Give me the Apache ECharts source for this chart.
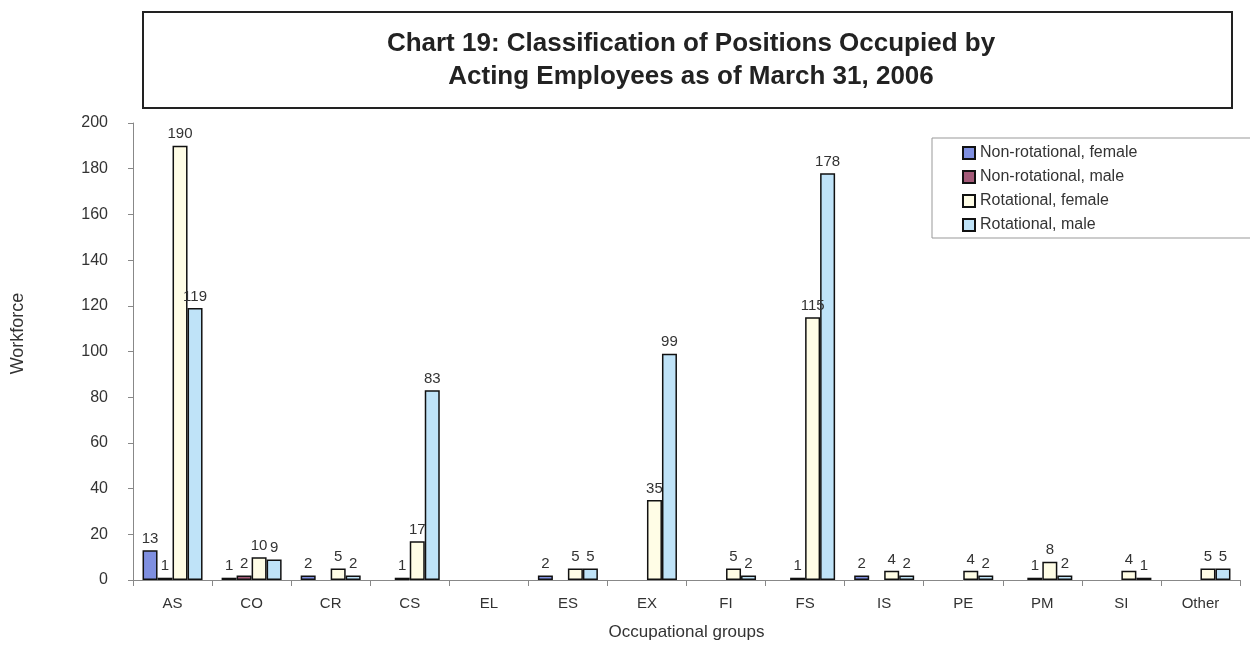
<!DOCTYPE html>
<html>
<head>
<meta charset="utf-8">
<script src="https://cdn.jsdelivr.net/npm/echarts@6/dist/echarts.min.js"></script>
<style>
  html, body { margin: 0; padding: 0; background: #fff; }
  #chart { width: 1250px; height: 646px; }
</style>
</head>
<body>
<div id="chart"></div>
<script>
  // occupational groups
  var groups = ['AS', 'CO', 'CR', 'CS', 'EL', 'ES', 'EX', 'FI', 'FS', 'IS', 'PE', 'PM', 'SI', 'Other'];

  // workforce counts, null = no bar
  var nonRotFemale = [13, 1, 2, null, null, 2, null, null, null, 2, null, null, null, null];
  var nonRotMale   = [1, 2, null, 1, null, null, null, null, 1, null, null, 1, null, null];
  var rotFemale    = [190, 10, 5, 17, null, 5, 35, 5, 115, 4, 4, 8, 4, 5];
  var rotMale      = [119, 9, 2, 83, null, 5, 99, 2, 178, 2, 2, 2, 1, 5];

  var font = 'Arial, "Liberation Sans", sans-serif';

  function barSeries(name, data, color) {
    return {
      name: name,
      type: 'bar',
      data: data,
      barWidth: 15,
      barGap: '0%',
      itemStyle: { color: color, borderColor: '#111', borderWidth: 1.5 },
      label: {
        show: true,
        position: 'top',
        distance: 4,
        color: '#333',
        fontSize: 15,
        fontFamily: font
      }
    };
  }

  var chart = echarts.init(document.getElementById('chart'));
  chart.setOption({
    animation: false,
    backgroundColor: '#fff',
    graphic: [{
      type: 'rect',
      shape: { x: 143, y: 12, width: 1089, height: 96 },
      style: { fill: '#fff', stroke: '#222', lineWidth: 2 }
    }],
    title: {
      text: 'Chart 19: Classification of Positions Occupied by\nActing Employees as of March 31, 2006',
      left: 686,
      textAlign: 'center',
      top: 22,
      textStyle: {
        fontFamily: font,
        fontSize: 26,
        fontWeight: 'bold',
        color: '#222',
        lineHeight: 33
      }
    },
    legend: {
      left: 932,
      top: 138,
      orient: 'vertical',
      itemWidth: 12,
      itemHeight: 12,
      itemGap: 8,
      padding: [7, 130, 5, 30],
      borderColor: '#999',
      borderWidth: 1,
      icon: 'rect',
      textStyle: { fontFamily: font, fontSize: 16, color: '#333' }
    },
    grid: {
      left: 133,
      right: 10,
      top: 123,
      bottom: 64
    },
    xAxis: {
      type: 'category',
      data: groups,
      name: 'Occupational groups',
      nameLocation: 'middle',
      nameGap: 44,
      nameTextStyle: { fontFamily: font, fontSize: 17, color: '#333' },
      axisLine: { lineStyle: { color: '#888' } },
      axisTick: { show: true, alignWithLabel: false, length: 6, lineStyle: { color: '#888' } },
      axisLabel: { fontFamily: font, fontSize: 15, color: '#333', margin: 16 }
    },
    yAxis: {
      type: 'value',
      min: 0,
      max: 200,
      interval: 20,
      name: 'Workforce',
      nameLocation: 'middle',
      nameGap: 106,
      nameTextStyle: { fontFamily: font, fontSize: 18, color: '#333', padding: [0, 0, 0, 36] },
      axisLine: { show: true, lineStyle: { color: '#888' } },
      axisTick: { show: true, length: 5, lineStyle: { color: '#888' } },
      splitLine: { show: false },
      axisLabel: { fontFamily: font, fontSize: 16, color: '#333', margin: 25 }
    },
    series: [
      barSeries('Non-rotational, female', nonRotFemale, '#7f8fe0'),
      barSeries('Non-rotational, male', nonRotMale, '#a35a78'),
      barSeries('Rotational, female', rotFemale, '#fffde6'),
      barSeries('Rotational, male', rotMale, '#bfe3f8')
    ]
  });
</script>
</body>
</html>
